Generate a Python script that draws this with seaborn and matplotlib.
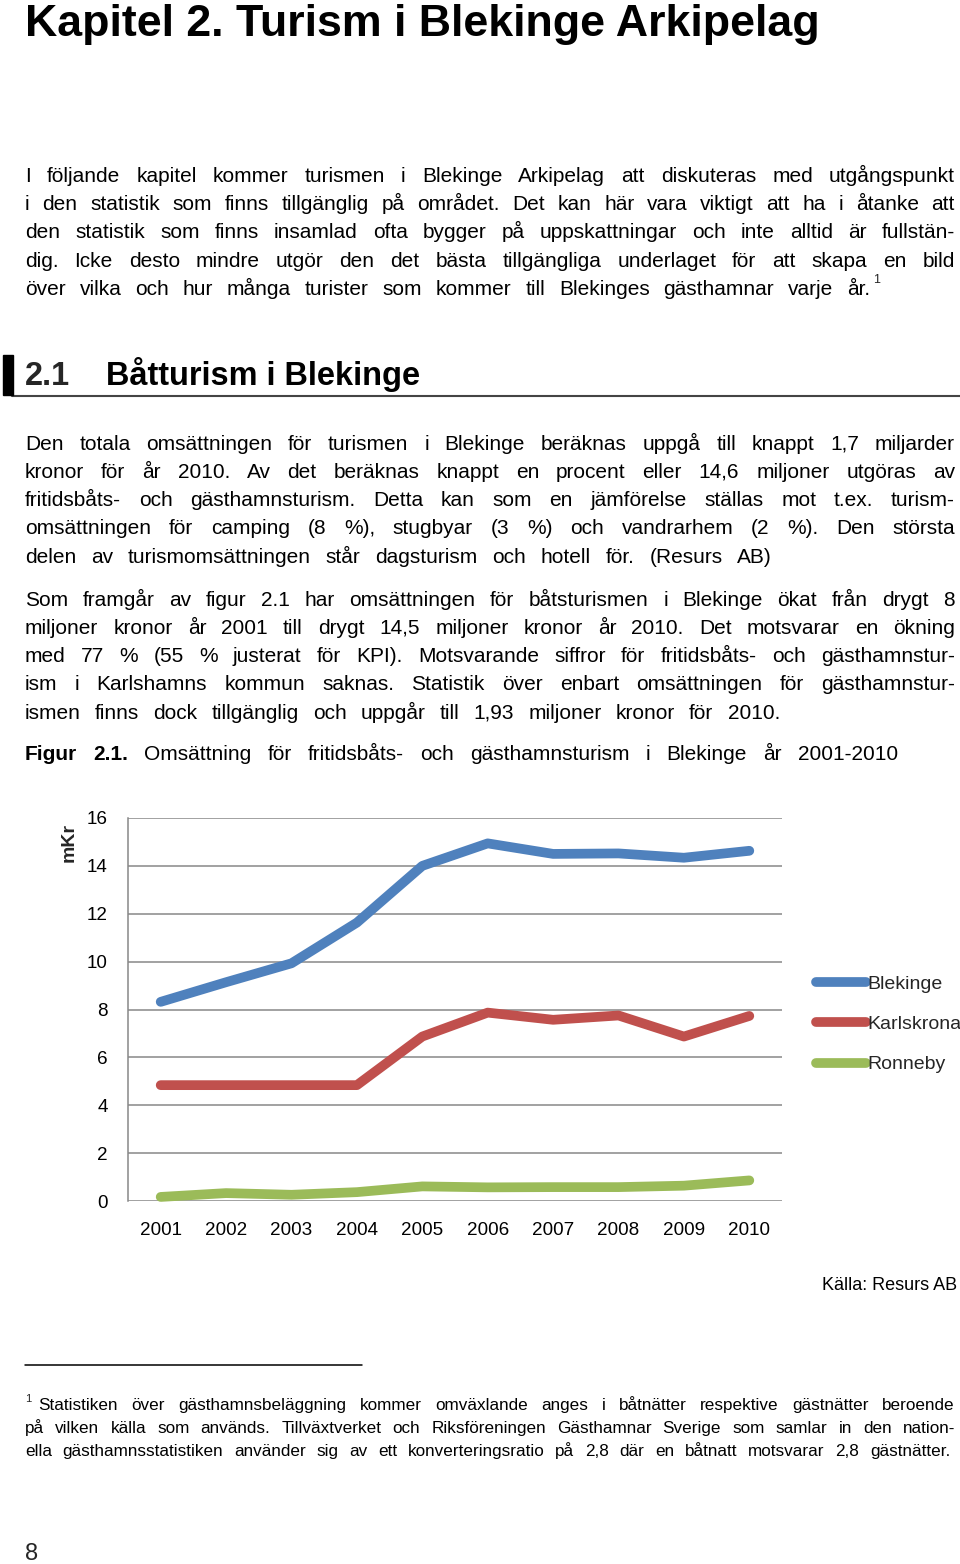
import matplotlib
matplotlib.use("Agg")
import matplotlib.pyplot as plt
import seaborn as sns
import pandas as pd
from matplotlib.lines import Line2D
from matplotlib.patches import Rectangle

# ---------------- data ----------------
years = [2001, 2002, 2003, 2004, 2005, 2006, 2007, 2008, 2009, 2010]
blekinge = [8.32, 9.14, 9.93, 11.63, 14.0, 14.94, 14.5, 14.52, 14.34, 14.63]
karlskrona = [4.84, 4.84, 4.84, 4.84, 6.87, 7.87, 7.57, 7.75, 6.87, 7.73]
ronneby = [0.17, 0.33, 0.26, 0.37, 0.61, 0.57, 0.58, 0.58, 0.64, 0.86]
series_names = ["Blekinge", "Karlskrona", "Ronneby"]
series_colors = ["#4F81BD", "#C0504D", "#9BBB59"]
y_ticks = [0, 2, 4, 6, 8, 10, 12, 14, 16]
y_label = "mKr"
source_text = "Källa: Resurs AB"

title_text = "Kapitel 2. Turism i Blekinge Arkipelag"
heading_num = "2.1"
heading_text = "Båtturism i Blekinge"

para1 = [
    "I följande kapitel kommer turismen i Blekinge Arkipelag att diskuteras med utgångspunkt",
    "i den statistik som finns tillgänglig på området. Det kan här vara viktigt att ha i åtanke att",
    "den statistik som finns insamlad ofta bygger på uppskattningar och inte alltid är fullstän-",
    "dig. Icke desto mindre utgör den det bästa tillgängliga underlaget för att skapa en bild",
    "över vilka och hur många turister som kommer till Blekinges gästhamnar varje år.",
]
para2 = [
    "Den totala omsättningen för turismen i Blekinge beräknas uppgå till knappt 1,7 miljarder",
    "kronor för år 2010. Av det beräknas knappt en procent eller 14,6 miljoner utgöras av",
    "fritidsbåts- och gästhamnsturism. Detta kan som en jämförelse ställas mot t.ex. turism-",
    "omsättningen för camping (8 %), stugbyar (3 %) och vandrarhem (2 %). Den största",
    "delen av turismomsättningen står dagsturism och hotell för. (Resurs AB)",
]
para3 = [
    "Som framgår av figur 2.1 har omsättningen för båtsturismen i Blekinge ökat från drygt 8",
    "miljoner kronor år 2001 till drygt 14,5 miljoner kronor år 2010. Det motsvarar en ökning",
    "med 77 % (55 % justerat för KPI). Motsvarande siffror för fritidsbåts- och gästhamnstur-",
    "ism i Karlshamns kommun saknas. Statistik över enbart omsättningen för gästhamnstur-",
    "ismen finns dock tillgänglig och uppgår till 1,93 miljoner kronor för 2010.",
]
caption_bold = "Figur 2.1."
caption_text = "Omsättning för fritidsbåts- och gästhamnsturism i Blekinge år 2001-2010"
footnote = [
    "Statistiken över gästhamnsbeläggning kommer omväxlande anges i båtnätter respektive gästnätter beroende",
    "på vilken källa som används. Tillväxtverket och Riksföreningen Gästhamnar Sverige som samlar in den nation-",
    "ella gästhamnsstatistiken använder sig av ett konverteringsratio på 2,8 där en båtnatt motsvarar 2,8 gästnätter.",
]
page_number = "8"

# ---------------- setup ----------------
sns.set_style("white")
plt.rcParams["font.family"] = ["Liberation Sans", "DejaVu Sans"]

W, H = 960, 1564
fig = plt.figure(figsize=(9.6, 15.64), dpi=100)
fig.patch.set_facecolor("white")
renderer = fig.canvas.get_renderer()


def fx(x):
    return x / W


def fy(y):
    return 1 - y / H


def place_words(items, y, x0, x1=None, size=15):
    texts = []
    for s, wt in items:
        t = fig.text(fx(x0), fy(y), s, fontsize=size, fontweight=wt,
                     va="baseline", ha="left", color="black")
        texts.append(t)
    widths = [t.get_window_extent(renderer).width for t in texts]
    n = len(texts)
    if x1 is not None and n > 1:
        g = (x1 - x0 - sum(widths)) / (n - 1)
    else:
        g = 0.278 * size * 100 / 72
    x = x0
    for t, w in zip(texts, widths):
        t.set_x(fx(x))
        x += w + g
    return x - g


def line_words(s, wt="normal"):
    return [(w, wt) for w in s.split(" ")]


def fit_text(s, x, y, target_w, size, weight="normal", ha="left"):
    t = fig.text(fx(x), fy(y), s, fontsize=size, fontweight=weight,
                 va="baseline", ha=ha, color="black")
    w = t.get_window_extent(renderer).width
    t.set_fontsize(size * target_w / w)
    return t


# ---------------- title ----------------
fit_text(title_text, 25, 36, 797, 34, weight="bold")

# ---------------- paragraph 1 ----------------
body_size = 15
p1_base = [181.7, 210.0, 238.4, 266.8, 295.1]
for i, (s, yb) in enumerate(zip(para1, p1_base)):
    end = 955 if i < len(para1) - 1 else 870
    place_words(line_words(s), yb, 25, end, body_size)
fig.text(fx(873), fy(283), "1", fontsize=9, va="baseline", ha="left")

# ---------------- heading ----------------
fig.patches.append(Rectangle((fx(3), fy(395)), fx(10), 40 / H,
                             transform=fig.transFigure, color="black", zorder=3))
fig.add_artist(Line2D([fx(12), fx(960)], [fy(396), fy(396)],
                      transform=fig.transFigure, color="#444444", lw=1.5))
ht = fit_text(heading_text, 106, 385, 315, 23, weight="bold")
fig.text(fx(25), fy(385), heading_num, fontsize=ht.get_fontsize(),
         fontweight="bold", va="baseline", ha="left")

# ---------------- paragraph 2 ----------------
p2_base = [449.5, 477.8, 506.1, 534.4, 562.7]
for i, (s, yb) in enumerate(zip(para2, p2_base)):
    end = 955 if i < len(para2) - 1 else 772
    place_words(line_words(s), yb, 25, end, body_size)

# ---------------- paragraph 3 ----------------
p3_base = [605.5, 633.8, 662.1, 690.4, 718.7]
for i, (s, yb) in enumerate(zip(para3, p3_base)):
    end = 955 if i < len(para3) - 1 else 780
    place_words(line_words(s), yb, 25, end, body_size)

# ---------------- caption ----------------
cap_items = line_words(caption_bold, "bold") + line_words(caption_text)
place_words(cap_items, 760.5, 25, 898, body_size)

# ---------------- chart ----------------
ax = fig.add_axes([fx(128), fy(1201), 654 / W, 383 / H])
df = pd.DataFrame({
    "År": years * 3,
    "mKr": blekinge + karlskrona + ronneby,
    "Område": [series_names[0]] * len(years) + [series_names[1]] * len(years)
              + [series_names[2]] * len(years),
})
palette = dict(zip(series_names, series_colors))
sns.lineplot(data=df, x="År", y="mKr", hue="Område", palette=palette,
             linewidth=7, ax=ax, legend=False, solid_capstyle="round",
             solid_joinstyle="round", clip_on=False, zorder=3)
ax.set_xlim(2000.5, 2010.5)
ax.set_ylim(0, 16)
ax.set_yticks(y_ticks)
ax.set_yticklabels([str(v) for v in y_ticks])
ax.set_xticks(years)
ax.set_xticklabels([str(y) for y in years])
ax.set_xlabel("")
ax.set_ylabel("")
ax.yaxis.grid(True, color="#888888", lw=1.1)
ax.xaxis.grid(False)
ax.set_axisbelow(True)
for sp in ["top", "right", "bottom"]:
    ax.spines[sp].set_visible(False)
ax.spines["left"].set_color("#888888")
ax.spines["left"].set_linewidth(1.1)
ax.tick_params(axis="y", length=0, pad=14.5, labelsize=13.6, labelcolor="black")
ax.tick_params(axis="x", length=0, pad=15, labelsize=13.6, labelcolor="black")

fig.text(fx(69), fy(842), y_label, rotation=90, fontsize=14, fontweight="bold",
         ha="center", va="center")

handles = [Line2D([0], [0], color=c, lw=7, solid_capstyle="round") for c in series_colors]
ax.legend(handles, series_names, loc="upper left",
          bbox_to_anchor=(fx(816), fy(975)), bbox_transform=fig.transFigure,
          frameon=False, fontsize=14, handlelength=2.57, handletextpad=0.05,
          labelspacing=1.17, borderpad=0, borderaxespad=0)

# ---------------- source ----------------
fit_text(source_text, 957, 1290, 135, 13, ha="right")

# ---------------- footnote ----------------
fig.add_artist(Line2D([fx(25), fx(362)], [fy(1365), fy(1365)],
                      transform=fig.transFigure, color="black", lw=1.1))
fig.text(fx(25), fy(1402), "1", fontsize=8, va="baseline", ha="left")
foot_size = 12.3
foot_base = [1410, 1433, 1456]
foot_x0 = [38, 25, 25]
foot_x1 = [955, 955, 950]
for s, yb, a, b in zip(footnote, foot_base, foot_x0, foot_x1):
    place_words(line_words(s), yb, a, b, foot_size)

# ---------------- page number ----------------
fig.text(fx(25), fy(1560), page_number, fontsize=17, va="baseline", ha="left")

fig.savefig("out.png", dpi=100, facecolor="white")
